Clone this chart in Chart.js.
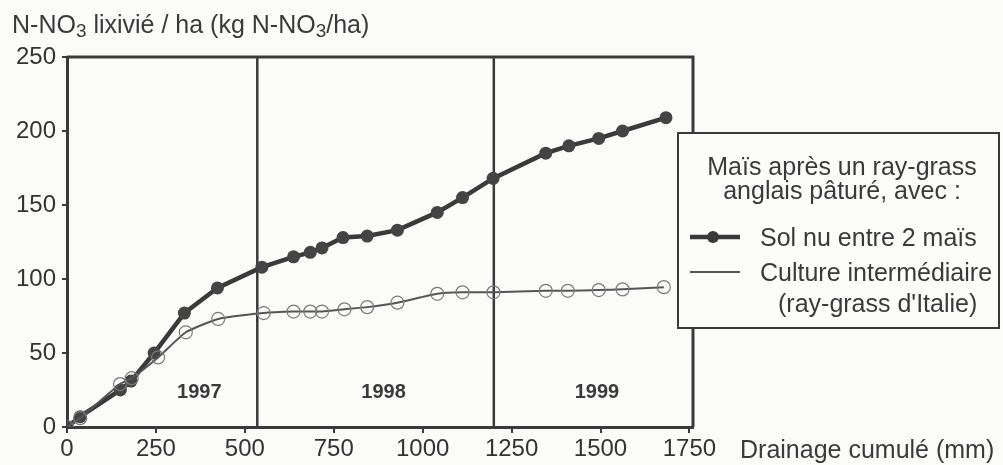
<!DOCTYPE html>
<html>
<head>
<meta charset="utf-8">
<script src="https://cdn.jsdelivr.net/npm/chart.js@4"></script>
<style>
  html, body { margin: 0; padding: 0; background: #fbfbfa; }
  #wrap { width: 1003px; height: 465px; }
</style>
</head>
<body>
<div id="wrap"><canvas id="chart" width="1003" height="465"></canvas></div>
<script>
// data
const solNuX = [0, 37, 150, 180, 245, 330, 423, 548, 637, 684, 717, 776, 844, 929, 1041, 1112, 1198, 1346, 1411, 1495, 1562, 1684];
const solNuY = [0, 7, 25, 31, 50, 77, 94, 108, 115, 118, 121, 128, 129, 133, 145, 155, 168, 185, 190, 195, 200, 209];
const cultureX = [0, 37, 149, 182, 256, 334, 425, 553, 637, 684, 717, 780, 844, 929, 1041, 1112, 1199, 1346, 1408, 1495, 1562, 1678];
const cultureY = [0, 6, 29, 33, 47, 64, 73, 77, 78, 78, 78, 79.5, 81, 84, 90, 91, 91, 92, 92, 92.5, 93, 94.5];
const yearBreaks = [535, 1200];
const yearLabels = ["1997", "1998", "1999"];
const yearLabelX = [372, 890, 1490];
const xTicks = [0, 250, 500, 750, 1000, 1250, 1500, 1750];
const yTicks = [0, 50, 100, 150, 200, 250];

const FONT = "'Liberation Sans', Arial, sans-serif";
const INK = "#3a3a3a";

const toPoints = (xs, ys) => xs.map((x, i) => ({ x: x, y: ys[i] }));

const decor = {
    id: "decor",
    beforeDatasetsDraw(chart) {
        const { ctx, chartArea: a, scales: { x, y } } = chart;
        ctx.save();
        // year separators
        ctx.strokeStyle = INK;
        ctx.lineWidth = 2.5;
        yearBreaks.forEach(v => {
            const px = x.getPixelForValue(v);
            ctx.beginPath();
            ctx.moveTo(px, a.top);
            ctx.lineTo(px, a.bottom);
            ctx.stroke();
        });
        // frame top + right
        ctx.lineWidth = 3;
        ctx.beginPath();
        ctx.moveTo(a.left, a.top);
        ctx.lineTo(a.right, a.top);
        ctx.lineTo(a.right, a.bottom);
        ctx.stroke();
        // year labels
        ctx.fillStyle = INK;
        ctx.font = "bold 20px " + FONT;
        ctx.textAlign = "center";
        ctx.textBaseline = "middle";
        yearLabels.forEach((t, i) => {
            ctx.fillText(t, x.getPixelForValue(yearLabelX[i]), y.getPixelForValue(23));
        });
        ctx.restore();
    },
    afterDraw(chart) {
        const { ctx } = chart;
        ctx.save();
        ctx.fillStyle = INK;
        ctx.textBaseline = "alphabetic";
        // y title with subscripts
        ctx.textAlign = "left";
        let cx = 12;
        const parts = [["N-NO", 0], ["3", 1], [" lixivié / ha (kg N-NO", 0], ["3", 1], ["/ha)", 0]];
        parts.forEach(([t, sub]) => {
            ctx.font = (sub ? "19px " : "25px ") + FONT;
            ctx.fillText(t, cx, sub ? 37 : 33);
            cx += ctx.measureText(t).width;
        });
        // x title
        ctx.font = "25px " + FONT;
        ctx.fillText("Drainage cumulé (mm)", 740, 458);

        // legend box
        const L = 678, T = 133, R = 999, B = 328;
        ctx.fillStyle = "#fcfcfb";
        ctx.fillRect(L, T, R - L, B - T);
        ctx.strokeStyle = INK;
        ctx.lineWidth = 2;
        ctx.strokeRect(L, T, R - L, B - T);
        ctx.fillStyle = INK;
        ctx.textAlign = "center";
        ctx.fillText("Maïs après un ray-grass", 842, 175);
        ctx.fillText("anglais pâturé, avec :", 842, 199);
        ctx.textAlign = "left";
        ctx.fillText("Sol nu entre 2 maïs", 760, 246);
        ctx.fillText("Culture intermédiaire", 760, 281);
        ctx.fillText("(ray-grass d'Italie)", 778, 312);
        // samples
        ctx.lineWidth = 4.5;
        ctx.beginPath();
        ctx.moveTo(690, 237);
        ctx.lineTo(740, 237);
        ctx.stroke();
        ctx.beginPath();
        ctx.arc(713, 237, 6, 0, Math.PI * 2);
        ctx.fill();
        ctx.lineWidth = 2;
        ctx.strokeStyle = "#555";
        ctx.beginPath();
        ctx.moveTo(690, 272);
        ctx.lineTo(740, 272);
        ctx.stroke();
        ctx.restore();
    }
};

new Chart(document.getElementById("chart"), {
    type: "line",
    data: {
        datasets: [
            {
                label: "Culture intermédiaire (ray-grass d'Italie)",
                data: toPoints(cultureX, cultureY),
                borderColor: "#555",
                borderWidth: 2,
                pointStyle: "circle",
                pointRadius: 6.5,
                pointBorderWidth: 1.2,
                pointBorderColor: "#7a7a7a",
                pointBackgroundColor: "rgba(0,0,0,0)",
                tension: 0.15
            },
            {
                label: "Sol nu entre 2 maïs",
                data: toPoints(solNuX, solNuY),
                borderColor: INK,
                borderWidth: 4.5,
                pointRadius: 6.5,
                pointBorderWidth: 0,
                pointBackgroundColor: "#444",
                tension: 0
            }
        ]
    },
    options: {
        responsive: false,
        animation: false,
        layout: { padding: { left: 0, top: 57, right: 310, bottom: 0 } },
        plugins: { legend: { display: false }, tooltip: { enabled: false } },
        scales: {
            x: {
                type: "linear",
                min: 0,
                max: 1760,
                afterBuildTicks: s => { s.ticks = xTicks.map(v => ({ value: v })); },
                afterFit: s => { s.height = 38; },
                border: { color: INK, width: 3 },
                grid: { drawOnChartArea: false, color: INK, lineWidth: 2, tickLength: 6 },
                ticks: { color: "#333", padding: 2, font: { family: FONT, size: 24 }, maxRotation: 0,
                         callback: v => String(v) }
            },
            y: {
                min: 0,
                max: 250,
                afterBuildTicks: s => { s.ticks = yTicks.map(v => ({ value: v })); },
                afterFit: s => { s.width = 67; },
                border: { color: INK, width: 3 },
                grid: { drawOnChartArea: false, color: INK, lineWidth: 2, tickLength: 5 },
                ticks: { color: "#333", padding: 6, font: { family: FONT, size: 24 },
                         callback: v => String(v) }
            }
        }
    },
    plugins: [decor]
});
</script>
</body>
</html>
